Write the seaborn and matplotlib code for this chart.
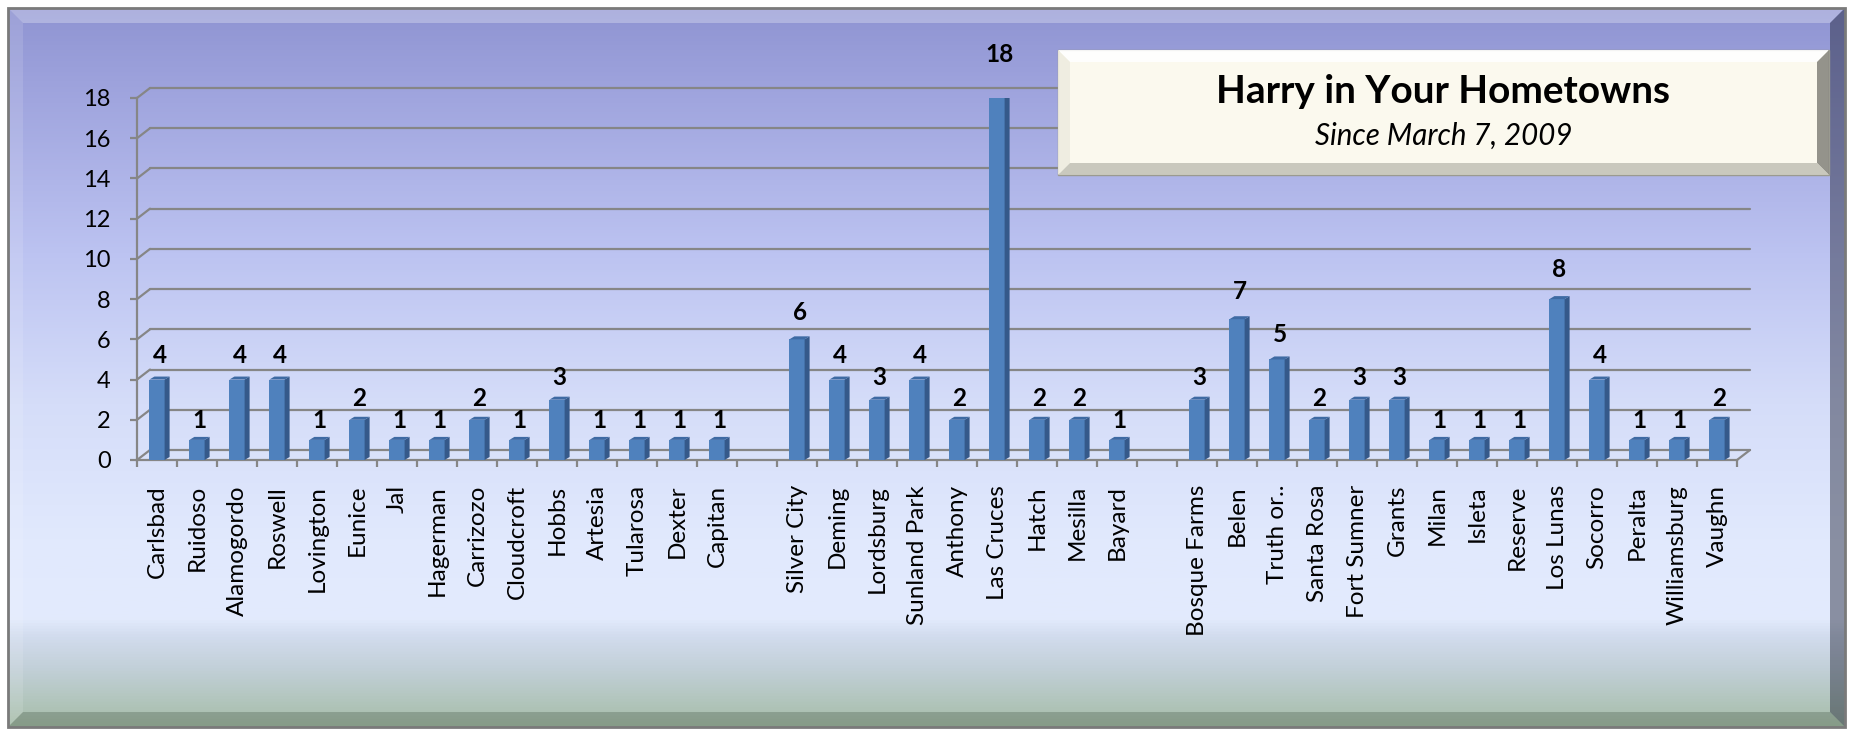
import numpy as np
import pandas as pd
import matplotlib
matplotlib.use("Agg")
import matplotlib.pyplot as plt
import seaborn as sns
from matplotlib.colors import LinearSegmentedColormap
from matplotlib.patches import Polygon, Rectangle

# ---------------- data ----------------
towns_southeast = ["Carlsbad", "Ruidoso", "Alamogordo", "Roswell", "Lovington", "Eunice",
                   "Jal", "Hagerman", "Carrizozo", "Cloudcroft", "Hobbs", "Artesia",
                   "Tularosa", "Dexter", "Capitan"]
counts_southeast = [4, 1, 4, 4, 1, 2, 1, 1, 2, 1, 3, 1, 1, 1, 1]

towns_southwest = ["Silver City", "Deming", "Lordsburg", "Sunland Park", "Anthony",
                   "Las Cruces", "Hatch", "Mesilla", "Bayard"]
counts_southwest = [6, 4, 3, 4, 2, 18, 2, 2, 1]

towns_central = ["Bosque Farms", "Belen", "Truth or..", "Santa Rosa", "Fort Sumner",
                 "Grants", "Milan", "Isleta", "Reserve", "Los Lunas", "Socorro",
                 "Peralta", "Williamsburg", "Vaughn"]
counts_central = [3, 7, 5, 2, 3, 3, 1, 1, 1, 8, 4, 1, 1, 2]

y_ticks = [0, 2, 4, 6, 8, 10, 12, 14, 16, 18]
title_text = "Harry in Your Hometowns"
subtitle_text = "Since March 7, 2009"

# empty slots separate the three groups
gap_a, gap_b = " ", "  "
categories = towns_southeast + [gap_a] + towns_southwest + [gap_b] + towns_central
counts = counts_southeast + [np.nan] + counts_southwest + [np.nan] + counts_central
df = pd.DataFrame({"town": categories, "count": counts})

# ---------------- figure ----------------
W, H = 1853, 735
DPI = 100
sns.set_theme(style="white")
plt.rcParams["font.family"] = ["Lato", "DejaVu Sans"]
fig = plt.figure(figsize=(W / DPI, H / DPI), dpi=DPI)

# background axes in pixel coordinates
bg = fig.add_axes([0, 0, 1, 1], zorder=-10)
bg.set_xlim(0, W)
bg.set_ylim(H, 0)
bg.axis("off")
fig.patch.set_facecolor("white")

fx0, fy0, fx1, fy1 = 8, 8, 1845, 727
stops = [(0.0, "#8f94d2"), (0.13, "#a1a6df"), (0.34, "#bcc3f1"), (0.55, "#d5ddf9"),
         (0.74, "#e1e9fd"), (0.85, "#e3ebfd"), (0.875, "#d2dcee"), (0.92, "#c2d0d8"),
         (1.0, "#a6bda8")]
cmap = LinearSegmentedColormap.from_list("bgfade", stops)
grad = np.linspace(0, 1, 512).reshape(-1, 1)
bg.imshow(grad, cmap=cmap, aspect="auto", extent=(fx0, fx1, fy1, fy0), zorder=0)

bev = 15
# bevels
bg.add_patch(Polygon([(fx0, fy0), (fx1, fy0), (fx1 - bev, fy0 + bev), (fx0 + bev, fy0 + bev)],
                     closed=True, facecolor="white", alpha=0.28, edgecolor="none", zorder=1))
bg.add_patch(Polygon([(fx0, fy0), (fx0 + bev, fy0 + bev), (fx0 + bev, fy1 - bev), (fx0, fy1)],
                     closed=True, facecolor="white", alpha=0.12, edgecolor="none", zorder=1))
bg.add_patch(Polygon([(fx1, fy0), (fx1, fy1), (fx1 - bev, fy1 - bev), (fx1 - bev, fy0 + bev)],
                     closed=True, facecolor="#1e2235", alpha=0.45, edgecolor="none", zorder=1))
bg.add_patch(Polygon([(fx0, fy1), (fx0 + bev, fy1 - bev), (fx1 - bev, fy1 - bev), (fx1, fy1)],
                     closed=True, facecolor="#2a3a2a", alpha=0.25, edgecolor="none", zorder=1))
bg.add_patch(Rectangle((fx0, fy0), fx1 - fx0, fy1 - fy0, facecolor="none",
                       edgecolor="#7a7a7a", lw=2, zorder=2))

# ---------------- main plot ----------------
x_left, x_right = 137, 1737
y_zero, y_top = 460, 98
ax = fig.add_axes([x_left / W, (H - y_zero) / H, (x_right - x_left) / W, (y_zero - y_top) / H],
                  zorder=1)
ax.set_facecolor("none")

bar_face = "#4f81bd"
sns.barplot(data=df, x="town", y="count", order=categories, color=bar_face,
            saturation=1, width=0.38, errorbar=None, ax=ax, zorder=3,
            edgecolor="none", linewidth=0)

n = len(categories)
ax.set_xlim(-0.5, n - 0.5)
ax.set_ylim(0, 18)

px_x = (x_right - x_left) / n          # pixels per x unit
px_y = (y_zero - y_top) / 18.0         # pixels per y unit

# 3D sides / tops of the bars
bdx, bdy = 5 / px_x, 3 / px_y
for p in list(ax.patches):
    h = p.get_height()
    if not np.isfinite(h) or h <= 0:
        continue
    x0, w = p.get_x(), p.get_width()
    ax.add_patch(Polygon([(x0 + w, 0), (x0 + w + bdx, bdy), (x0 + w + bdx, h + bdy), (x0 + w, h)],
                         closed=True, facecolor="#35598a", edgecolor="none", zorder=3))
    ax.add_patch(Polygon([(x0, h), (x0 + bdx, h + bdy), (x0 + w + bdx, h + bdy), (x0 + w, h)],
                         closed=True, facecolor="#3e6aa3", edgecolor="none", zorder=3))
    off = 18 + 1.4 * h
    ax.annotate(f"{int(h)}", (x0 + w / 2 + bdx / 2, h), xytext=(0, off / (DPI / 72)),
                textcoords="offset points", ha="center", va="center",
                fontsize=17.5, fontweight="bold", color="black", zorder=5,
                annotation_clip=False)

# back wall grid and floor
gcol = "#868686"
glw = 1.6
gdx, gdy = 13 / px_x, 10 / px_y
for yv in y_ticks:
    ax.plot([-0.5, -0.5 + gdx], [yv, yv + gdy], color=gcol, lw=glw, clip_on=False, zorder=1)
    ax.plot([-0.5 + gdx, n - 0.5 + gdx], [yv + gdy, yv + gdy], color=gcol, lw=glw,
            clip_on=False, zorder=1)
ax.plot([n - 0.5, n - 0.5 + gdx], [0, gdy], color=gcol, lw=glw, clip_on=False, zorder=1)

# axes styling
for s in ["top", "right"]:
    ax.spines[s].set_visible(False)
for s in ["left", "bottom"]:
    ax.spines[s].set_color(gcol)
    ax.spines[s].set_linewidth(glw)
ax.set_yticks(y_ticks)
ax.set_yticklabels([str(v) for v in y_ticks], fontsize=17)
ax.tick_params(axis="y", direction="out", length=5, width=glw, color=gcol, pad=14,
               left=True, labelcolor="black")
ax.set_xticks(range(n))
ax.set_xticklabels([c.strip() for c in categories], rotation=90, fontsize=17.5)
ax.tick_params(axis="x", which="major", length=0, pad=18, labelcolor="black")
ax.set_xticks(np.arange(-0.5, n, 1.0), minor=True)
ax.tick_params(axis="x", which="minor", direction="out", length=5, width=glw,
               color=gcol, bottom=True)
ax.set_xlabel("")
ax.set_ylabel("")
ax.grid(False)

# ---------------- title box ----------------
ov = fig.add_axes([0, 0, 1, 1], zorder=5)
ov.set_xlim(0, W)
ov.set_ylim(H, 0)
ov.axis("off")
ov.patch.set_alpha(0)
bx0, by0, bx1, by1 = 1058, 50, 1829, 175
bb = 12
ov.add_patch(Rectangle((bx0, by0), bx1 - bx0, by1 - by0, facecolor="#fbf9ee",
                       edgecolor="#9a9a90", lw=1, zorder=1))
ov.add_patch(Polygon([(bx0, by0), (bx1, by0), (bx1 - bb, by0 + bb), (bx0 + bb, by0 + bb)],
                     closed=True, facecolor="white", alpha=0.9, edgecolor="none", zorder=2))
ov.add_patch(Polygon([(bx0, by0), (bx0 + bb, by0 + bb), (bx0 + bb, by1 - bb), (bx0, by1)],
                     closed=True, facecolor="#eeece0", alpha=0.9, edgecolor="none", zorder=2))
ov.add_patch(Polygon([(bx1, by0), (bx1, by1), (bx1 - bb, by1 - bb), (bx1 - bb, by0 + bb)],
                     closed=True, facecolor="#7a7a72", alpha=0.8, edgecolor="none", zorder=2))
ov.add_patch(Polygon([(bx0, by1), (bx0 + bb, by1 - bb), (bx1 - bb, by1 - bb), (bx1, by1)],
                     closed=True, facecolor="#c4c3b8", alpha=0.9, edgecolor="none", zorder=2))

cx = (bx0 + bx1) / 2
t1 = ov.text(cx, 91, title_text, ha="center", va="center", fontsize=24,
             fontweight="bold", color="black", zorder=3)
t2 = ov.text(cx, 136, subtitle_text, ha="center", va="center", fontsize=18,
             fontstyle="italic", color="black", zorder=3)
renderer = fig.canvas.get_renderer()
for t, target in [(t1, 455), (t2, 258)]:
    wpx = t.get_window_extent(renderer).width
    t.set_fontsize(t.get_fontsize() * target / wpx)

fig.savefig("out.png", dpi=DPI)
